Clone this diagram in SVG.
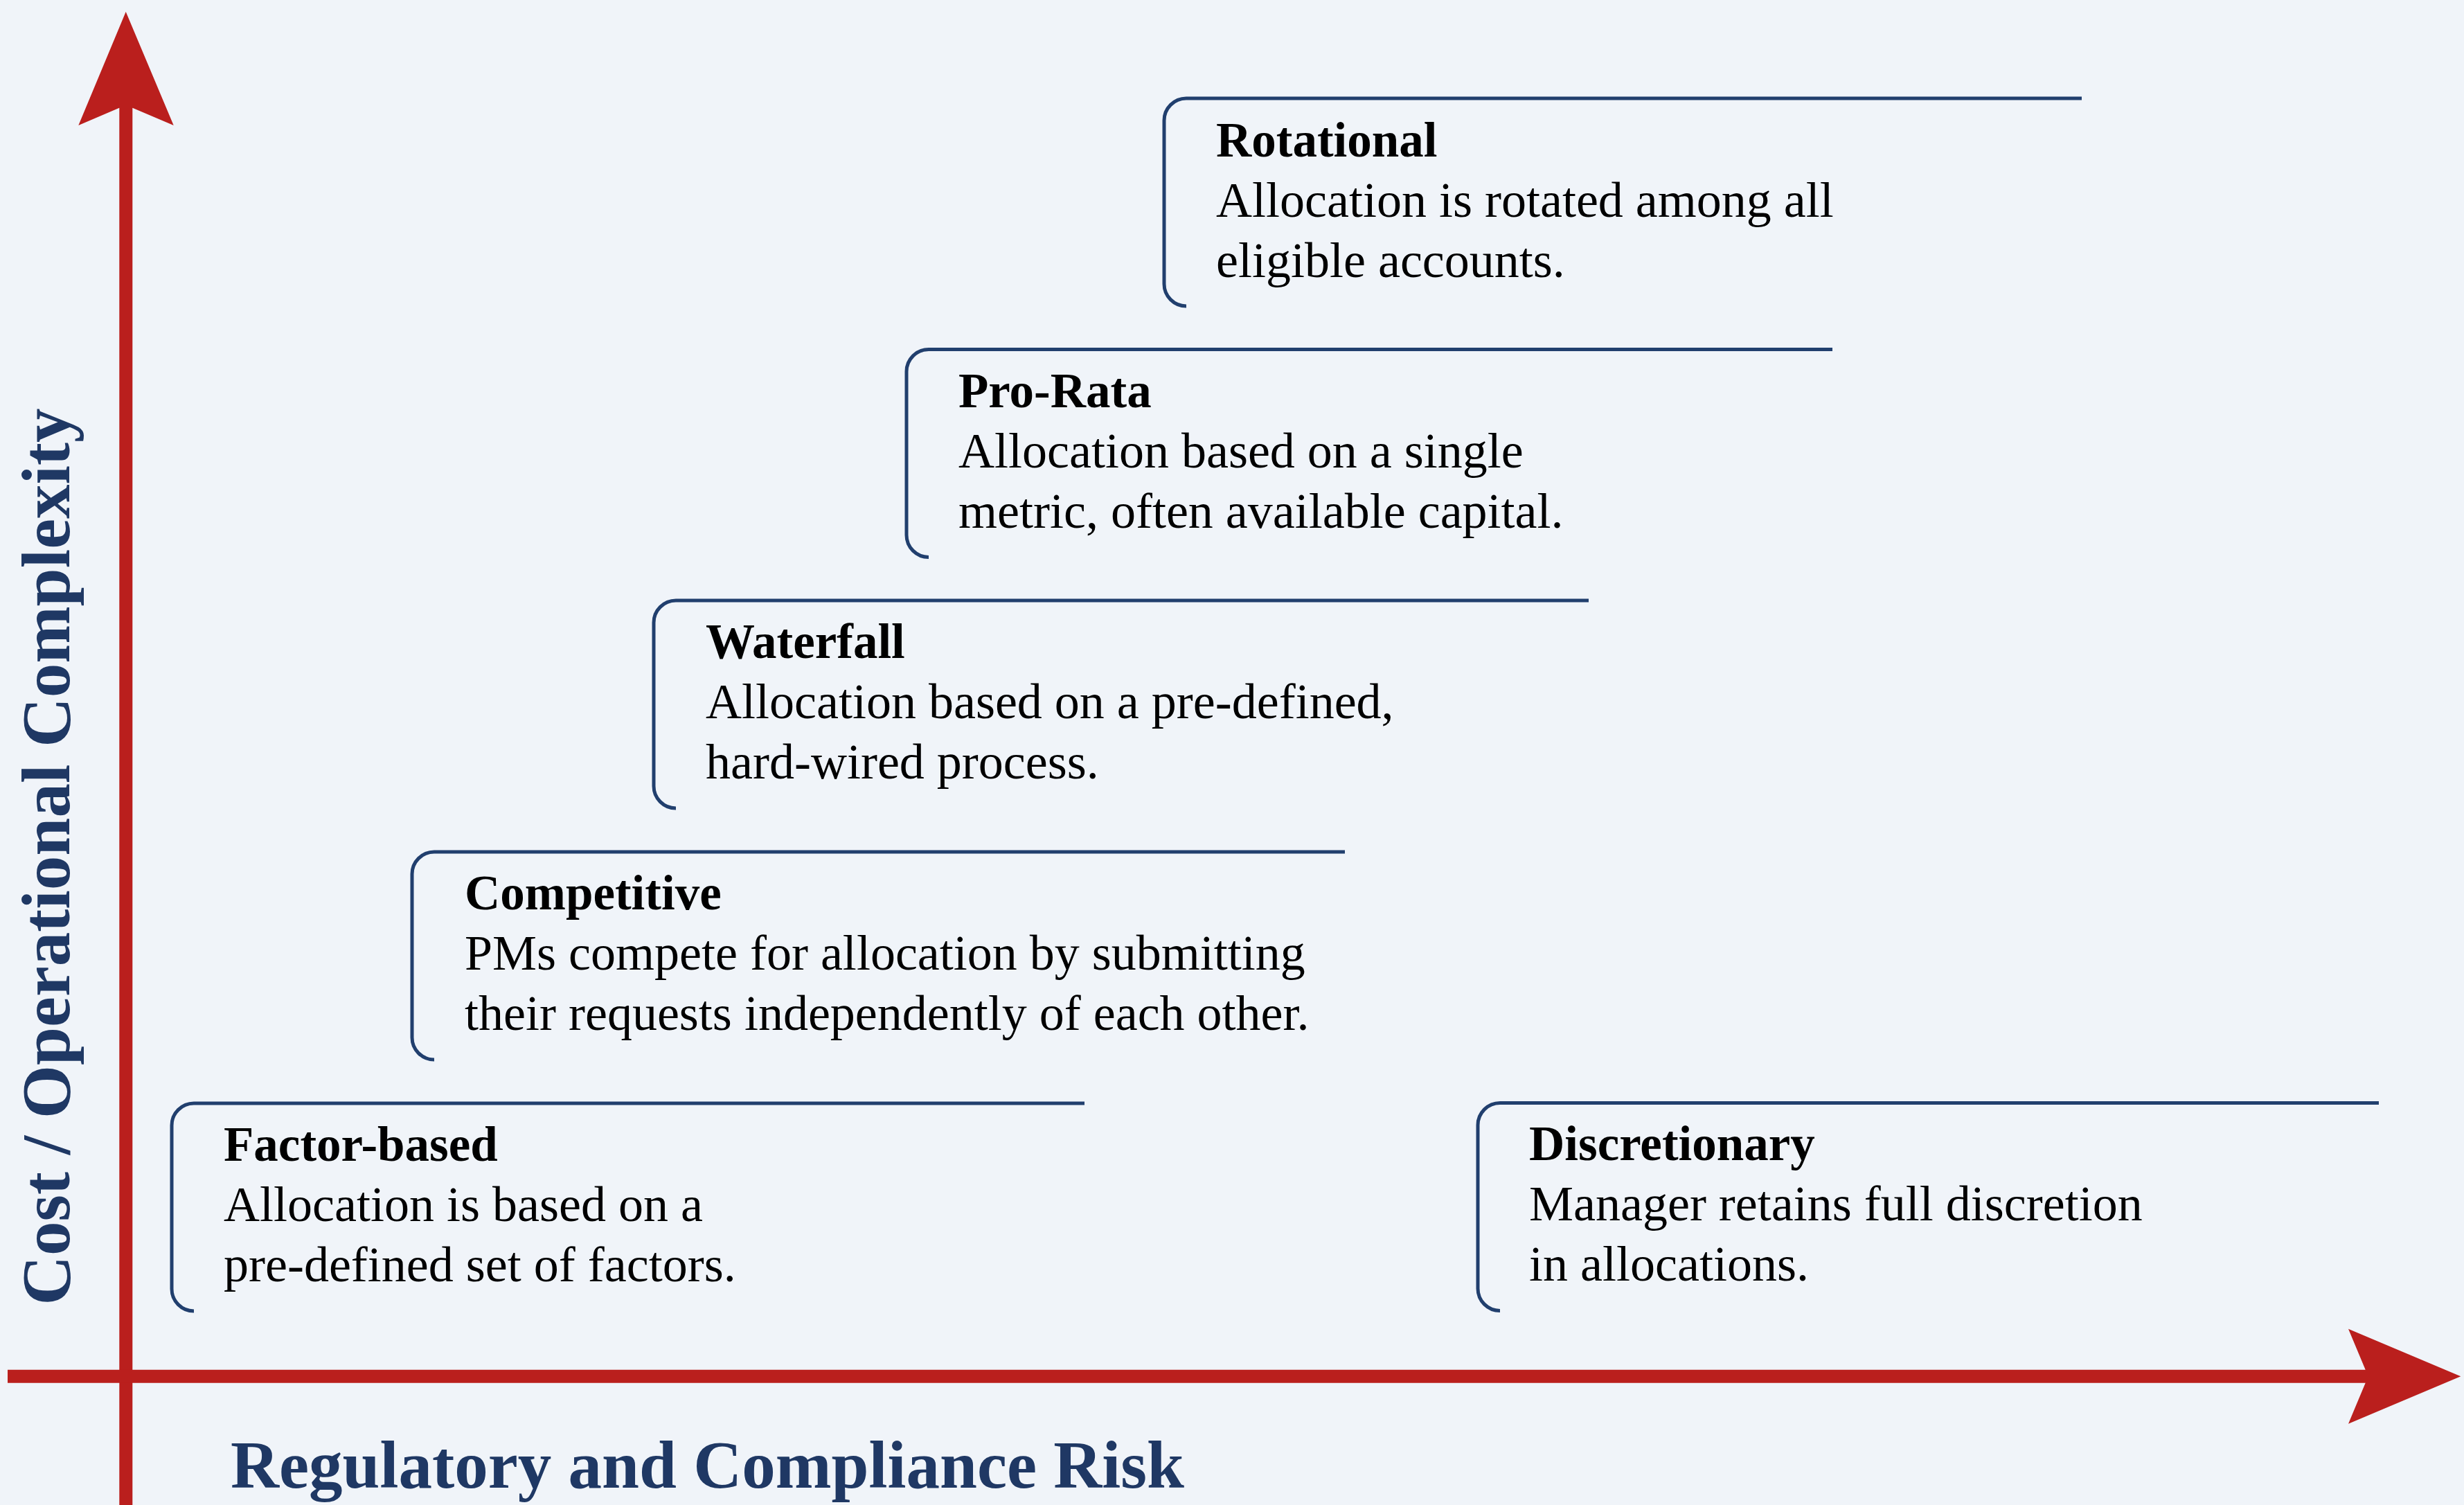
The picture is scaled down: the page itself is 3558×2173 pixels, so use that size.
<svg xmlns="http://www.w3.org/2000/svg" width="3558" height="2173" viewBox="0 0 3558 2173">
  <style>
    .bg { fill: #F0F4F9; }
    .axis { fill: #BA1F1D; }
    .bracket { fill: none; stroke: #213F6E; stroke-width: 5; stroke-linecap: butt; }
    .title { font-family: "Liberation Serif", "Times New Roman", serif; font-weight: bold; font-size: 71px; fill: #000; }
    .body { font-family: "Liberation Serif", "Times New Roman", serif; font-size: 72px; fill: #000; }
    .axislabel { font-family: "Liberation Serif", "Times New Roman", serif; font-weight: bold; font-size: 97px; fill: #1F3864; }
    #label-y { font-size: 99px; }
  </style>

  <rect class="bg" x="0" y="0" width="3558" height="2173"/>

  <!-- Axes with their arrowheads -->
  <g id="connectors">
    <path id="axis-y" class="axis" d="M181.7,17 L250.7,181 L191.3,155.7 L191.3,2173 L172.3,2173 L172.3,155.7 L113.3,181 Z"/>
    <path id="axis-x" class="axis" d="M11,1977.7 L3415.7,1977.7 L3391,1918.7 L3553.3,1987.3 L3391,2055.7 L3415.7,1996.7 L11,1996.7 Z"/>
  </g>

  <!-- Axis titles -->
  <text id="label-y" class="axislabel" text-anchor="middle" transform="translate(100,1237) rotate(-90)">Cost / Operational Complexity</text>
  <text id="label-x" class="axislabel" x="333" y="2148">Regulatory and Compliance Risk</text>

  <!-- Factor-based -->
  <g id="node-factor-based">
    <path class="bracket" d="M280,1893 A32,32 0 0 1 248,1861 V1625 A32,32 0 0 1 280,1593 H1566"/>
    <text class="title" x="323" y="1676">Factor-based</text>
    <text class="body" x="323" y="1763">Allocation is based on a</text>
    <text class="body" x="323" y="1850">pre-defined set of factors.</text>
  </g>

  <!-- Competitive -->
  <g id="node-competitive">
    <path class="bracket" d="M627,1530 A32,32 0 0 1 595,1498 V1262 A32,32 0 0 1 627,1230 H1942"/>
    <text class="title" x="671" y="1313">Competitive</text>
    <text class="body" x="671" y="1400">PMs compete for allocation by submitting</text>
    <text class="body" x="671" y="1487">their requests independently of each other.</text>
  </g>

  <!-- Waterfall -->
  <g id="node-waterfall">
    <path class="bracket" d="M976,1167 A32,32 0 0 1 944,1135 V899 A32,32 0 0 1 976,867 H2294"/>
    <text class="title" x="1019" y="950">Waterfall</text>
    <text class="body" x="1019" y="1037">Allocation based on a pre-defined,</text>
    <text class="body" x="1019" y="1124">hard-wired process.</text>
  </g>

  <!-- Pro-Rata -->
  <g id="node-pro-rata">
    <path class="bracket" d="M1341,804.5 A32,32 0 0 1 1309,772.5 V536.5 A32,32 0 0 1 1341,504.5 H2646"/>
    <text class="title" x="1384" y="588">Pro-Rata</text>
    <text class="body" x="1384" y="675">Allocation based on a single</text>
    <text class="body" x="1384" y="762">metric, often available capital.</text>
  </g>

  <!-- Rotational -->
  <g id="node-rotational">
    <path class="bracket" d="M1713,442 A32,32 0 0 1 1681,410 V174 A32,32 0 0 1 1713,142 H3006"/>
    <text class="title" x="1756" y="226">Rotational</text>
    <text class="body" x="1756" y="313">Allocation is rotated among all</text>
    <text class="body" x="1756" y="400">eligible accounts.</text>
  </g>

  <!-- Discretionary -->
  <g id="node-discretionary">
    <path class="bracket" d="M2166,1892.5 A32,32 0 0 1 2134,1860.5 V1624.5 A32,32 0 0 1 2166,1592.5 H3435"/>
    <text class="title" x="2208" y="1675">Discretionary</text>
    <text class="body" x="2208" y="1762">Manager retains full discretion</text>
    <text class="body" x="2208" y="1849">in allocations.</text>
  </g>
</svg>
